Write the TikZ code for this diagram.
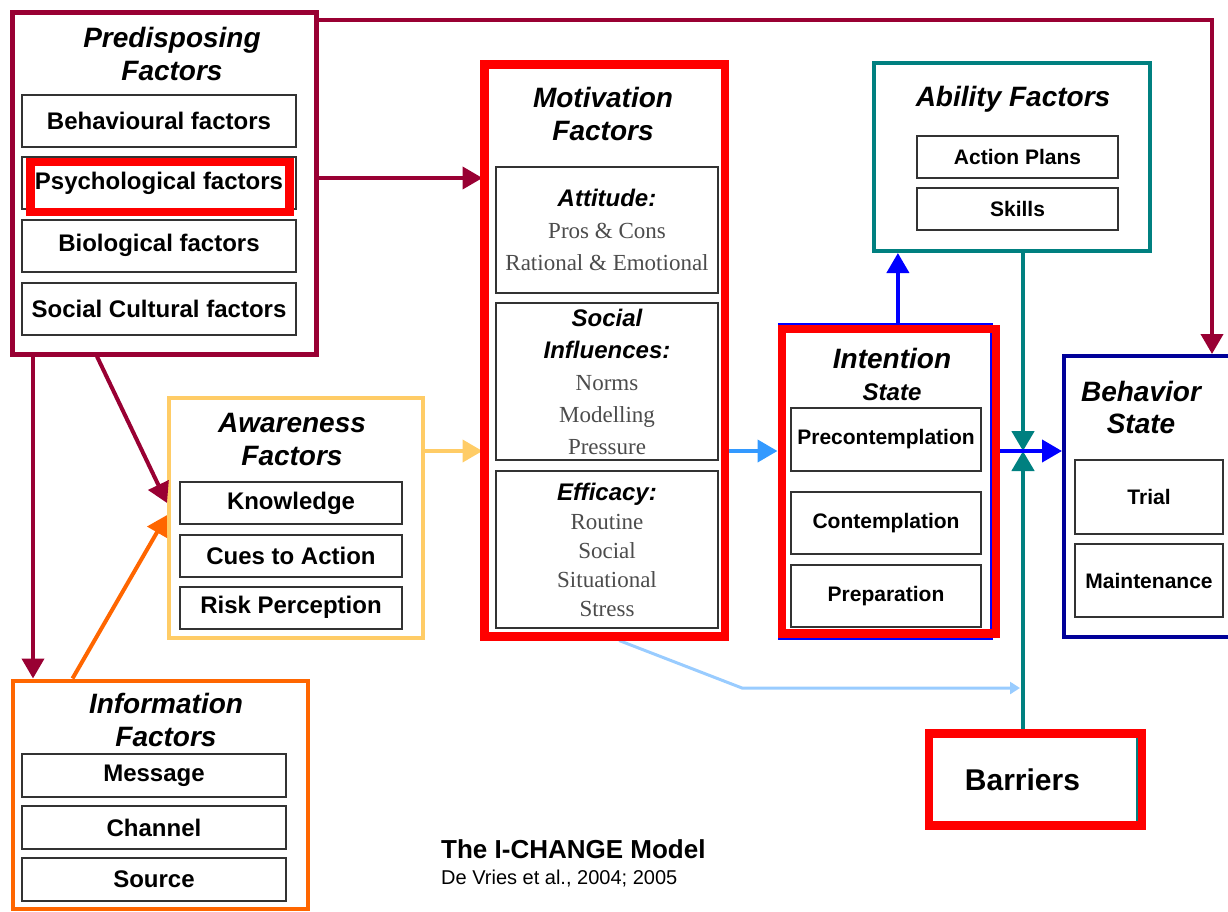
\documentclass[tikz,border=0pt]{standalone}
\usepackage{fontspec}
\setmainfont{Liberation Sans}
\newfontfamily\gfont{Liberation Serif}
\usetikzlibrary{arrows.meta,calc}
\definecolor{predcol}{RGB}{153,0,51}
\definecolor{awarecol}{RGB}{255,204,102}
\definecolor{infocol}{RGB}{255,102,0}
\definecolor{motivcol}{RGB}{51,153,255}
\definecolor{paleblue}{RGB}{153,204,255}
\definecolor{abilitycol}{RGB}{0,128,128}
\definecolor{intentcol}{RGB}{0,0,255}
\definecolor{behavcol}{RGB}{0,0,153}
\newcommand{\mhead}[1]{{\fontsize{24}{32}\selectfont\bfseries\itshape #1}}
\newcommand{\mtext}[1]{{\gfont\color{black!70}#1}}

\begin{document}
\begin{tikzpicture}[x=1pt, y=-1pt,
    box/.style={draw, line width=4pt, inner sep=0pt},
    item/.style={draw=black!80, line width=2pt, fill=white, inner sep=0pt, align=center,
      font=\fontsize{24}{28}\selectfont\bfseries},
    smallitem/.style={item, font=\fontsize{21}{25}\selectfont\bfseries},
    mitem/.style={item, font=\fontsize{23}{32}\selectfont},
    heading/.style={inner sep=0pt, align=center, font=\fontsize{28}{33}\selectfont\bfseries\itshape},
    hilite/.style={draw=red, line width=8.5pt, inner sep=0pt},
    link/.style={line width=4pt, -{Triangle[length=20pt,width=22pt]}}]
    \useasboundingbox (0,0) rectangle (1228,911);

    \node [box, draw=predcol, line width=5pt, minimum width=304, minimum height=342] (pred) at (164,183) {};
    \node [heading] (predtitle) at (172,53.5) {Predisposing\\Factors};
    \node [item, minimum width=274, minimum height=52] (behavf) at (159,120.5) {Behavioural factors};
    \node [item, minimum width=274, minimum height=52] (psych) at (159,183) {Psychological factors};
    \node [item, minimum width=274, minimum height=52] (biol) at (159,245.5) {Biological factors};
    \node [item, minimum width=274, minimum height=52] (socul) at (159,308.5) {Social Cultural factors};

    \node [box, draw=infocol, minimum width=295, minimum height=228] (info) at (160,794.5) {};
    \node [heading] (infotitle) at (166,719.5) {Information\\Factors};
    \node [item, minimum width=264, minimum height=43] (message) at (154,775.5) {Message};
    \node [item, minimum width=264, minimum height=43] (channel) at (154,827.5) {Channel};
    \node [item, minimum width=264, minimum height=43] (source) at (154,879.5) {Source};

    \node [box, draw=awarecol, minimum width=254, minimum height=240] (aware) at (296,518) {};
    \node [heading] (awaretitle) at (292,439.5) {Awareness\\Factors};
    \node [item, minimum width=222, minimum height=42] (knowl) at (291,503) {Knowledge};
    \node [item, minimum width=222, minimum height=42] (cues) at (291,555.5) {Cues to Action};
    \node [item, minimum width=222, minimum height=42] (risk) at (291,607.5) {Risk Perception};

    \node [box, draw=motivcol, line width=3pt, minimum width=241, minimum height=575] (motiv) at (604.5,351.5) {};
    \node [heading] (motivtitle) at (603,114) {Motivation\\Factors};
    \node [mitem, minimum width=222, minimum height=126] (attitude) at (607,230)
      {\mhead{Attitude:}\\\mtext{Pros \& Cons}\\\mtext{Rational \& Emotional}};
    \node [mitem, minimum width=222, minimum height=157] (socinf) at (607,381.5)
      {\mhead{Social}\\\mhead{Influences:}\\\mtext{Norms}\\\mtext{Modelling}\\\mtext{Pressure}};
    \node [mitem, font=\fontsize{23}{29}\selectfont, minimum width=222, minimum height=157] (efficacy) at (607,549.5)
      {\mhead{Efficacy:}\\\mtext{Routine}\\\mtext{Social}\\\mtext{Situational}\\\mtext{Stress}};

    \node [box, draw=abilitycol, minimum width=276, minimum height=188] (ability) at (1012,157) {};
    \node [heading] (abilitytitle) at (1013,99) {Ability Factors};
    \node [smallitem, minimum width=201, minimum height=42] (plans) at (1017.5,157) {Action Plans};
    \node [smallitem, minimum width=201, minimum height=42] (skills) at (1017.5,209) {Skills};

    \node [box, draw=intentcol, line width=3pt, minimum width=212, minimum height=314] (intent) at (885,481) {};
    \node [heading, font=\fontsize{28}{32}\selectfont\bfseries\itshape] (intenttitle) at (892,374)
      {Intention\\{\fontsize{24}{32}\selectfont State}};
    \node [smallitem, minimum width=190, minimum height=63] (precon) at (886,439.5) {Precontemplation};
    \node [smallitem, minimum width=190, minimum height=62] (contem) at (886,523) {Contemplation};
    \node [smallitem, minimum width=190, minimum height=62] (prep) at (886,596) {Preparation};

    \node [box, draw=behavcol, minimum width=172, minimum height=281] (behav) at (1150,496.5) {};
    \node [heading, font=\fontsize{28}{32}\selectfont\bfseries\itshape] (behavtitle) at (1141,407) {Behavior\\State};
    \node [smallitem, minimum width=148, minimum height=74] (trial) at (1149,497) {Trial};
    \node [smallitem, minimum width=148, minimum height=73] (maint) at (1149,580.5) {Maintenance};

    \node [box, draw=abilitycol, line width=3pt, minimum width=210, minimum height=88] (barrier) at (1032,778) {};
    \node [inner sep=0pt, font=\fontsize{30}{36}\selectfont\bfseries] (bartext) at (1022.5,780) {Barriers};

    \node [anchor=west, inner sep=0pt, font=\fontsize{26}{30}\selectfont\bfseries] (captitle) at (441,849) {The I-CHANGE Model};
    \node [anchor=west, inner sep=0pt, font=\fontsize{20}{24}\selectfont] (capref) at (441,879) {De Vries et al., 2004; 2005};

    \coordinate (corner) at (1212,20);
    \coordinate (row) at (0,451);
    \coordinate (meet) at (1023,451);
    \coordinate (bend) at (742,688);

    \draw [link, predcol] (pred.east |- corner) -| (behav.north -| corner);
    \draw [link, predcol] ($(pred.east |- psych)+(0,-5)$) -- ($(motiv.west |- psych)+(0,-5)$);
    \draw [link, predcol] ($(pred.south west)+(87.5,0)$) -- (aware.west |- knowl);
    \draw [link, predcol] ($(pred.south west)+(23.5,0)$) coordinate (drop) -- (drop |- info.north);
    \draw [link, infocol] ($(info.north west)+(62,0)$) -- ($(aware.west |- knowl)+(0,12)$);
    \draw [link, awarecol] (aware.east |- row) -- (motiv.west |- row);
    \draw [link, motivcol] (motiv.east |- row) -- (intent.west |- row);
    \draw [line width=3pt, paleblue, -{Triangle[length=10pt,width=12pt]}]
      ($(motiv.south west)!0.56!(motiv.south east)$) -- (bend) -- ($(bend -| meet)+(-3,0)$);
    \draw [link, abilitycol, line width=4.5pt] (ability.south -| meet) -- (meet);
    \draw [link, abilitycol, line width=4.5pt] (barrier.north -| meet) -- (meet);
    \draw [link, intentcol] ($(intent.north west)!0.56!(intent.north east)$) coordinate (upfoot) -- (upfoot |- ability.south);

    \node [hilite, minimum width=259, minimum height=50] (psychmark) at (160,187) {};
    \node [hilite, minimum width=240.5, minimum height=572] (motivmark) at (604.75,350.5) {};
    \node [hilite, minimum width=214, minimum height=304.5] (intentmark) at (889,481) {};
    \node [hilite, minimum width=213, minimum height=92] (barriermark) at (1035.5,779.5) {};

    \draw [link, intentcol] (intentmark.east |- row) -- (behav.west |- row);
  \end{tikzpicture}
\end{document}
